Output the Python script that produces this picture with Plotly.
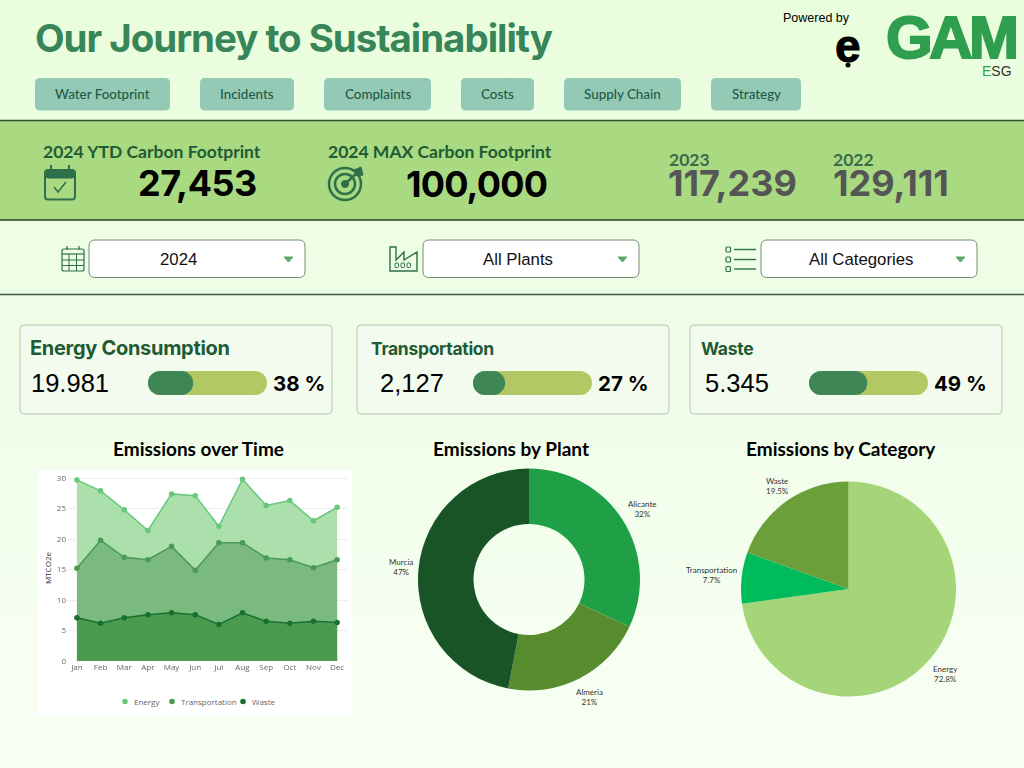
import plotly.graph_objects as go

# Data
months = ['Jan', 'Feb', 'Mar', 'Apr', 'May', 'Jun', 'Jul', 'Aug', 'Sep', 'Oct', 'Nov', 'Dec']
energy = [29.7, 27.9, 24.8, 21.4, 27.4, 27.1, 22.1, 29.8, 25.5, 26.3, 23.0, 25.2]
transportation = [15.2, 19.8, 17.0, 16.6, 18.8, 14.9, 19.4, 19.4, 16.9, 16.6, 15.3, 16.6]
waste = [7.1, 6.2, 7.1, 7.6, 7.9, 7.6, 6.0, 7.9, 6.5, 6.2, 6.5, 6.3]

plants = ['Alicante', 'Almeria', 'Murcia']
plant_values = [32, 21, 47]
categories = ['Energy', 'Transportation', 'Waste']
category_values = [72.8, 7.7, 19.5]

gauge_pct = [38, 27, 49]
gauge_max = [100, 100, 100]
card_titles = ['Energy Consumption', 'Transportation', 'Waste']
card_values = ['19.981', '2,127', '5.345']

nav_labels = ['Water Footprint', 'Incidents', 'Complaints', 'Costs', 'Supply Chain', 'Strategy']
filter_labels = ['2024', 'All Plants', 'All Categories']

DARK = '#2f6f49'
TITLE_GREEN = '#38855a'
HEAD_GREEN = '#1f5b34'
LOGO_GREEN = '#2f9e4f'


# Helpers to place things in 1024x768 pixel terms
def px(x):
    return x / 1024


def py(y):
    return 1 - y / 768


def rounded(x0, y0, x1, y1, r):
    pts = [
        ('M', x0 + r, y0), ('L', x1 - r, y0), ('Q', x1, y0, x1, y0 + r),
        ('L', x1, y1 - r), ('Q', x1, y1, x1 - r, y1), ('L', x0 + r, y1),
        ('Q', x0, y1, x0, y1 - r), ('L', x0, y0 + r), ('Q', x0, y0, x0 + r, y0),
    ]
    out = ''
    for p in pts:
        if p[0] == 'Q':
            out += f'Q{px(p[1])},{py(p[2])} {px(p[3])},{py(p[4])} '
        else:
            out += f'{p[0]}{px(p[1])},{py(p[2])} '
    return out + 'Z'


def poly(points, close=True):
    out = ''
    for i, (x, y) in enumerate(points):
        out += ('M' if i == 0 else 'L') + f'{px(x)},{py(y)} '
    return out + ('Z' if close else '')


shapes = []
annotations = []


def box(x0, y0, x1, y1, r, fill, line='rgba(0,0,0,0)', width=1, layer='below'):
    shapes.append(dict(type='path', path=rounded(x0, y0, x1, y1, r), xref='paper', yref='paper',
                       fillcolor=fill, line=dict(color=line, width=width), layer=layer))


def rect(x0, y0, x1, y1, fill, layer='below'):
    shapes.append(dict(type='rect', xref='paper', yref='paper', x0=px(x0), x1=px(x1), y0=py(y0), y1=py(y1),
                       fillcolor=fill, line=dict(width=0), layer=layer))


def hline(x0, x1, y, color, width=1.5, layer='above'):
    shapes.append(dict(type='line', xref='paper', yref='paper', x0=px(x0), x1=px(x1), y0=py(y), y1=py(y),
                       line=dict(color=color, width=width), layer=layer))


def vline(x, y0, y1, color, width=1.5):
    shapes.append(dict(type='line', xref='paper', yref='paper', x0=px(x), x1=px(x), y0=py(y0), y1=py(y1),
                       line=dict(color=color, width=width), layer='above'))


def circle(cx, cy, r, fill='rgba(0,0,0,0)', line='rgba(0,0,0,0)', width=2):
    shapes.append(dict(type='circle', xref='paper', yref='paper', x0=px(cx - r), x1=px(cx + r),
                       y0=py(cy - r), y1=py(cy + r), fillcolor=fill, line=dict(color=line, width=width), layer='above'))


def path(points, color, width=1.5, fill='rgba(0,0,0,0)', close=False):
    shapes.append(dict(type='path', path=poly(points, close), xref='paper', yref='paper', fillcolor=fill,
                       line=dict(color=color, width=width), layer='above'))


def label(x, y, text, size, color='#000000', family='Liberation Sans', weight=400, anchor='left', spacing=0):
    if spacing:
        text = f'<span style="letter-spacing:{spacing}px">{text}</span>'
    annotations.append(dict(x=px(x), y=py(y), xref='paper', yref='paper', text=text, showarrow=False,
                            xanchor=anchor, yanchor='middle', borderpad=0,
                            font=dict(size=size, color=color, family=family, weight=weight)))


# Header
label(34, 37.5, 'Our Journey to Sustainability', 38.5, TITLE_GREEN, 'Inter', 700, spacing=-1.05)
label(782, 18, 'Powered by', 12.5)
label(834, 46, '<span style="stroke:#000000;stroke-width:1px">e</span>', 46, '#000000', 'Liberation Sans', 700)
circle(848, 65, 2.5, fill='#000000', line='#000000', width=0)
label(885, 38, f'<span style="stroke:{LOGO_GREEN};stroke-width:2px">GAM</span>', 60, LOGO_GREEN,
      'Liberation Sans', 700, spacing=-3.5)
label(981, 71, f'<span style="color:{LOGO_GREEN}">E</span>SG', 14, '#333333')

nav_x = [(35, 170), (200, 294), (324, 431), (461, 534), (564, 681), (711, 801)]
for name, (x0, x1) in zip(nav_labels, nav_x):
    box(x0, 78, x1, 110.5, 5, '#94cab5')
    label((x0 + x1) / 2, 94, name, 13.4, '#1f5a4a', 'Lato', 500, 'center')

# Carbon footprint band
rect(0, 120.5, 1024, 220, '#a9d981')
hline(0, 1024, 120.5, '#2f4f2a', 1.5)
hline(0, 1024, 220, '#24401f', 1.5)
label(42, 151, '2024 YTD Carbon Footprint', 17.5, HEAD_GREEN, 'Lato', 700)
label(327, 151, '2024 MAX Carbon Footprint', 17.5, HEAD_GREEN, 'Lato', 700)
label(137, 183.5, '27,453', 36, '#000000', 'Inter', 700, spacing=-0.5)
label(405, 184, '100,000', 36, '#000000', 'Inter', 700, spacing=-0.8)
label(668, 159.5, '2023', 17.5, '#3d6b4a', 'Lato', 700)
label(832, 159.5, '2022', 17.5, '#3d6b4a', 'Lato', 700)
label(667, 183.5, '117,239', 36, '#555555', 'Inter', 700)
label(832, 183.5, '129,111', 36, '#555555', 'Inter', 700)

# calendar check icon
box(45, 170, 75, 199.5, 3, 'rgba(0,0,0,0)', DARK, 2, 'above')
box(45, 170, 75, 178, 3, DARK, DARK, 1, 'above')
vline(51, 165, 171, DARK, 2)
vline(69, 165, 171, DARK, 2)
path([(54, 187), (58, 192), (66, 182)], DARK, 1.5)

# target icon
circle(345, 184, 16, line=DARK, width=2.5)
circle(345, 184, 10, line=DARK, width=2.5)
circle(345, 184, 3.5, fill=DARK, line=DARK, width=1)
path([(345, 184), (358, 172)], DARK, 2.5)
path([(354, 170), (361, 167), (363, 175), (357, 176)], DARK, 1, DARK, True)

# Filter row
hline(0, 1024, 294.5, '#3e5a42', 1.5)
filter_x = [(89, 305), (423, 639), (761, 977)]
filter_text_x = [178, 518, 861]
for name, (x0, x1), tx in zip(filter_labels, filter_x, filter_text_x):
    box(x0, 240, x1, 277.5, 6, '#ffffff', '#6f8f74', 1)
    label(tx, 259.5, name, 16.8, '#111111', 'Liberation Sans', 400, 'center')
    path([(x1 - 21, 257), (x1 - 12, 257), (x1 - 16.5, 262)], '#5aa86a', 1, '#5aa86a', True)

# small calendar icon
box(62, 249, 84, 271, 2, 'rgba(0,0,0,0)', DARK, 1.2, 'above')
hline(62, 84, 254, DARK, 1.2)
hline(62, 84, 260, DARK, 1)
hline(62, 84, 265.5, DARK, 1)
vline(69, 254, 271, DARK, 1)
vline(76.5, 254, 271, DARK, 1)
vline(67, 246, 250, DARK, 1.2)
vline(79, 246, 250, DARK, 1.2)

# factory icon
path([(390, 271), (390, 247), (396, 247), (396, 260), (404, 252), (404, 260), (417, 252), (417, 271)],
     DARK, 1.4, close=True)
for bx in [395, 401, 407]:
    box(bx, 263, bx + 3.5, 267.5, 1, 'rgba(0,0,0,0)', DARK, 1, 'above')

# list icon
for ly in [249.5, 259.5, 269]:
    box(726, ly - 2.5, 730.5, ly + 2.5, 1, 'rgba(0,0,0,0)', DARK, 1.2, 'above')
    hline(734, 756, ly, DARK, 1.4)

# KPI cards
card_x = [(20, 332), (357, 669), (690, 1002)]
title_x = [29, 370, 700]
value_x = [30, 379, 704]
pct_x = [272, 597, 933]
gauge_x = [(148, 267), (473, 592), (809, 928)]
for i in range(3):
    x0, x1 = card_x[i]
    box(x0, 325, x1, 414, 4, '#f3fbef', '#b5c7b3', 1)
    label(title_x[i], 348, card_titles[i], 20 if i == 0 else 17.5, HEAD_GREEN, 'Inter', 700, spacing=-0.3)
    label(value_x[i], 383, card_values[i], 25.5, '#000000', 'Liberation Sans')
    label(pct_x[i], 383.5, f'{gauge_pct[i]} %', 20.5, '#000000', 'Inter', 700)

# Chart titles
label(198, 448.5, 'Emissions over Time', 19, '#000000', 'Lato', 700, 'center')
label(511, 448.5, 'Emissions by Plant', 19, '#000000', 'Lato', 700, 'center')
label(841, 448.5, 'Emissions by Category', 19, '#000000', 'Lato', 700, 'center')

# White panel behind the blurred line chart
rect(38, 470, 352, 716, '#ffffff')

fig = go.Figure()

# Emissions over time, overlapping areas
series = [('Energy', energy, '#66c878', '#abe0ac'),
          ('Transportation', transportation, '#4a9a56', '#7bba7f'),
          ('Waste', waste, '#17712e', '#4b9a50')]
for name, vals, col, fill in series:
    fig.add_trace(go.Scatter(x=months, y=vals, mode='lines+markers', fill='tozeroy', fillcolor=fill,
                             line=dict(color=col, width=1.5), marker=dict(color=col, size=5.5),
                             name=name, showlegend=False, xaxis='x', yaxis='y'))

# Legend of the time chart, marker dots with the names next to them
legend_dot_x = [125, 172, 243]
for (name, vals, col, fill), lx in zip(series, legend_dot_x):
    circle(lx, 701.5, 2.8, fill=col, line=col, width=0)
    label(lx + 8, 701.5, name, 8, '#666666', 'Open Sans')

# Progress pills, one small axis pair per card (a base makes both ends round)
for i in range(3):
    n = i + 2
    cat = [card_titles[i]]
    fig.add_trace(go.Bar(y=cat, x=[gauge_max[i]], base=[0], orientation='h',
                         marker=dict(color='#b2c864', line=dict(width=0)),
                         width=1, showlegend=False, xaxis=f'x{n}', yaxis=f'y{n}'))
    fig.add_trace(go.Bar(y=cat, x=[gauge_pct[i]], base=[0], orientation='h',
                         marker=dict(color='#3f8656', line=dict(width=0)),
                         width=1, showlegend=False, xaxis=f'x{n}', yaxis=f'y{n}'))

# Pies, with their labels placed by hand where the picture has them
fig.add_trace(go.Pie(labels=plants, values=plant_values, hole=0.5, sort=False, direction='clockwise', rotation=0,
                     marker=dict(colors=['#1fa047', '#578c2e', '#195427'], line=dict(width=0)),
                     textinfo='none', showlegend=False,
                     domain=dict(x=[px(418), px(640)], y=[py(691), py(468)])))
fig.add_trace(go.Pie(labels=categories, values=category_values, sort=False, direction='clockwise', rotation=0,
                     marker=dict(colors=['#a5d578', '#00bb5c', '#6b9f39'], line=dict(width=0)),
                     textinfo='none', showlegend=False,
                     domain=dict(x=[px(741), px(956)], y=[py(697), py(481)])))

plant_label_pos = [(642, 508.5), (589, 697), (401, 567)]
category_label_pos = [(945.5, 674), (711, 575), (777, 486)]
for name, v, (lx, ly) in zip(plants, plant_values, plant_label_pos):
    label(lx, ly, f'{name}<br>{v}%', 8, '#333333', 'Lato', 400, 'center')
for name, v, (lx, ly) in zip(categories, category_values, category_label_pos):
    label(lx, ly, f'{name}<br>{v}%', 8, '#333333', 'Lato', 400, 'center')

layout_axes = {}
for i in range(3):
    n = i + 2
    x0, x1 = gauge_x[i]
    layout_axes[f'xaxis{n}'] = dict(domain=[px(x0), px(x1)], range=[0, 100], visible=False, fixedrange=True, anchor=f'y{n}')
    layout_axes[f'yaxis{n}'] = dict(domain=[py(395), py(371)], range=[-0.5, 0.5], visible=False, fixedrange=True, anchor=f'x{n}')

fig.update_layout(
    width=1024, height=768, margin=dict(l=0, r=0, t=0, b=0, autoexpand=False),
    paper_bgcolor='rgba(0,0,0,0)', plot_bgcolor='rgba(0,0,0,0)',
    barmode='overlay', barcornerradius=12,
    font=dict(family='Open Sans', color='#555555'),
    shapes=shapes, annotations=annotations, showlegend=False,
    xaxis=dict(domain=[px(67), px(348)], range=[-0.42, 11.46], tickfont=dict(size=8, color='#666666'),
               showgrid=False, zeroline=False, showline=False, ticks='', anchor='y'),
    yaxis=dict(domain=[py(661), py(475)], range=[0, 30.5], tickvals=[0, 5, 10, 15, 20, 25, 30],
               tickfont=dict(size=8, color='#666666'), gridcolor='#eeeeee', gridwidth=1, zeroline=False,
               title=dict(text='MTCO2e', font=dict(size=8, color='#333333'), standoff=4), anchor='x'),
    **layout_axes
)

# Page background gradient, and the soft focus of the time chart
post = """
document.documentElement.style.background = 'linear-gradient(180deg, #e9fedc 0%, #effde6 40%, #f8fff4 100%)';
document.body.style.background = 'transparent';
document.body.style.margin = '0';
document.documentElement.style.overflow = 'hidden';
document.querySelectorAll('.subplot.xy').forEach(function (el) { el.style.filter = 'blur(0.7px)'; });
"""
fig.write_html("out.html", post_script=post, config=dict(displayModeBar=False))
